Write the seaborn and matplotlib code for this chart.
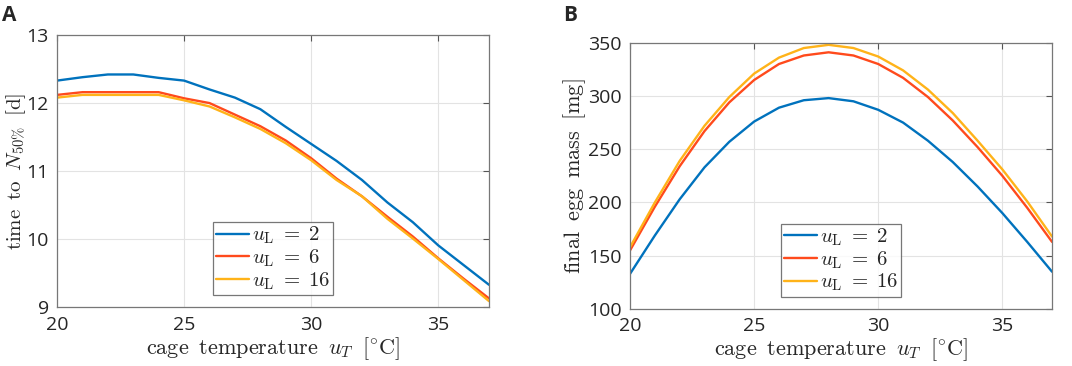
import numpy as np
import pandas as pd
import matplotlib
matplotlib.use("Agg")
import matplotlib.pyplot as plt
import seaborn as sns

# data
temps = list(range(20, 38))
series_labels = [r'$u_\mathrm{L}\;=\;2$', r'$u_\mathrm{L}\;=\;6$', r'$u_\mathrm{L}\;=\;16$']
colors = ['#0072BD', '#FF4A1C', '#FFB319']

t50_u2 = [12.33, 12.38, 12.42, 12.42, 12.37, 12.33, 12.20, 12.08, 11.91, 11.65,
          11.40, 11.15, 10.87, 10.54, 10.25, 9.91, 9.62, 9.33]
t50_u6 = [12.12, 12.16, 12.16, 12.16, 12.16, 12.07, 12.00, 11.83, 11.66, 11.45,
          11.19, 10.89, 10.63, 10.33, 10.04, 9.72, 9.42, 9.13]
t50_u16 = [12.08, 12.12, 12.12, 12.12, 12.12, 12.04, 11.95, 11.79, 11.62, 11.41,
           11.16, 10.87, 10.63, 10.30, 10.01, 9.71, 9.40, 9.09]

egg_u2 = [133, 169, 203, 233, 257, 276, 289, 296, 298, 295,
          287, 275, 258, 238, 215, 190, 163, 135]
egg_u6 = [155, 196, 234, 267, 294, 315, 330, 338, 341, 338,
          330, 317, 299, 277, 252, 225, 195, 163]
egg_u16 = [158, 200, 239, 272, 299, 321, 336, 345, 348, 345,
           337, 324, 306, 284, 258, 231, 201, 168]


def long_frame(values):
    rows = []
    for lab, vals in zip(series_labels, values):
        for t, v in zip(temps, vals):
            rows.append({'T': t, 'val': v, 'series': lab})
    return pd.DataFrame(rows)


df_a = long_frame([t50_u2, t50_u6, t50_u16])
df_b = long_frame([egg_u2, egg_u6, egg_u16])

sns.set_style('white')
plt.rcParams['font.family'] = ['Open Sans', 'DejaVu Sans']
plt.rcParams['mathtext.fontset'] = 'cm'

fig = plt.figure(figsize=(10.72, 3.66), dpi=100)
ax_a = fig.add_axes([0.0532, 0.1604, 0.403, 0.744])
ax_b = fig.add_axes([0.5877, 0.1557, 0.3937, 0.7276])

palette = dict(zip(series_labels, colors))

for ax, df in [(ax_a, df_a), (ax_b, df_b)]:
    sns.lineplot(data=df, x='T', y='val', hue='series', palette=palette,
                 hue_order=series_labels, linewidth=1.7, ax=ax)
    ax.set_xlim(20, 37)
    ax.set_xticks([20, 25, 30, 35])
    ax.grid(True, color='#e3e3e3', linewidth=0.8)
    ax.set_axisbelow(True)
    ax.tick_params(direction='in', length=4, top=True, right=True,
                   labelsize=14, color='#555555', pad=6)
    for s in ax.spines.values():
        s.set_color('#777777')
        s.set_linewidth(0.9)
    ax.set_xlabel(r'$\mathrm{cage\;\;temperature}\;\;u_T\;\;[^{\circ}\mathrm{C}]$',
                  fontsize=16, labelpad=1)
    leg = ax.legend(loc='lower center', bbox_to_anchor=(0.5, 0.0), fontsize=15,
                    frameon=True, fancybox=False, handlelength=1.6,
                    handletextpad=0.15, borderpad=0.15, labelspacing=0.05,
                    borderaxespad=0.6)
    leg.get_frame().set_edgecolor('#555555')
    leg.get_frame().set_linewidth(0.9)

ax_a.set_ylim(9, 13)
ax_a.set_yticks([9, 10, 11, 12, 13])
ax_a.set_ylabel(r'$\mathrm{time\;\;to\;\;}N_{50\%}\;\;[\mathrm{d}]$', fontsize=15)
ax_a.yaxis.set_label_coords(-0.068, 0.5)

ax_b.set_ylim(100, 350)
ax_b.set_yticks([100, 150, 200, 250, 300, 350])
ax_b.set_ylabel(r'$\mathrm{final\;\;egg\;\;mass\;\;[mg]}$', fontsize=16)
ax_b.yaxis.set_label_coords(-0.1, 0.5)

fig.text(0.002, 0.985, 'A', fontsize=15, fontweight='bold', va='top', ha='left')
fig.text(0.525, 0.985, 'B', fontsize=15, fontweight='bold', va='top', ha='left')

fig.savefig('out.png', dpi=100)
